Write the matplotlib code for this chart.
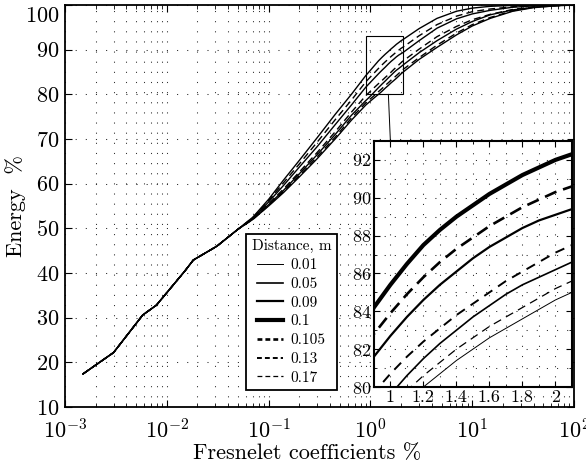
import matplotlib
matplotlib.use("Agg")
import matplotlib.pyplot as plt
import matplotlib.transforms as mtransforms
from matplotlib.lines import Line2D
from matplotlib.patches import Rectangle, ConnectionPatch
from matplotlib.ticker import LogLocator, MultipleLocator, NullFormatter

plt.rcParams['font.family'] = 'serif'
plt.rcParams['font.serif'] = ['cmr10']
plt.rcParams['mathtext.fontset'] = 'cm'
plt.rcParams['axes.formatter.use_mathtext'] = True
plt.rcParams['lines.scale_dashes'] = False

# data
distances = ['0.01', '0.05', '0.09', '0.1', '0.105', '0.13', '0.17']

# all curves coincide at the low end
x_low = [0.0015, 0.003, 0.0058, 0.0079, 0.0151, 0.0182, 0.031]
e_low = [17.4, 22.2, 30.6, 32.8, 40.5, 42.9, 46.0]

x_high = [0.05, 0.07, 0.1, 0.14, 0.2, 0.3, 0.45, 0.65,
          0.9, 1.0, 1.1, 1.2, 1.3, 1.4, 1.5, 1.6, 1.7, 1.8, 1.9, 2.0, 2.1,
          3, 4.5, 7, 10, 15, 25, 40, 65, 100]

e_001 = [49.8, 52.0, 55.0, 58.0, 61.5, 65.6, 70.0, 74.2,
         77.6, 78.5, 79.3, 80.0, 80.7, 81.4, 82.0, 82.6, 83.1, 83.6, 84.1, 84.6, 85.0,
         87.8, 90.5, 93.3, 95.3, 97.0, 98.6, 99.4, 99.8, 100]
e_005 = [49.8, 52.1, 55.3, 58.5, 62.2, 66.5, 71.0, 75.3,
         78.6, 79.6, 80.6, 81.5, 82.3, 83.0, 83.7, 84.3, 84.9, 85.4, 85.8, 86.2, 86.6,
         89.3, 92.0, 94.6, 96.3, 97.8, 98.9, 99.5, 99.9, 100]
e_009 = [49.8, 52.3, 55.9, 59.6, 63.7, 68.3, 73.2, 77.6,
         81.6, 82.7, 83.7, 84.6, 85.4, 86.1, 86.8, 87.4, 87.9, 88.4, 88.8, 89.1, 89.4,
         92.0, 94.8, 96.9, 98.0, 98.8, 99.5, 99.8, 99.9, 100]
e_010 = [49.8, 52.5, 56.5, 60.8, 65.2, 70.3, 75.5, 80.0,
         84.2, 85.4, 86.5, 87.5, 88.3, 89.0, 89.6, 90.2, 90.7, 91.2, 91.6, 92.0, 92.3,
         94.7, 97.0, 98.6, 99.3, 99.7, 99.9, 100, 100, 100]
e_0105 = [49.8, 52.4, 56.2, 60.2, 64.4, 69.3, 74.3, 78.7,
          82.8, 83.9, 84.9, 85.8, 86.6, 87.3, 87.9, 88.5, 89.0, 89.5, 89.9, 90.3, 90.6,
          93.1, 95.6, 97.5, 98.5, 99.1, 99.6, 99.9, 100, 100]
e_013 = [49.8, 52.2, 55.5, 58.8, 62.6, 67.0, 71.6, 76.0,
         79.7, 80.7, 81.6, 82.4, 83.1, 83.8, 84.4, 85.0, 85.6, 86.1, 86.6, 87.1, 87.5,
         90.1, 92.9, 95.2, 96.7, 97.9, 99.0, 99.6, 99.9, 100]
e_017 = [49.8, 52.0, 55.1, 58.2, 61.8, 66.0, 70.4, 74.7,
         78.1, 79.0, 79.8, 80.6, 81.3, 82.0, 82.6, 83.2, 83.7, 84.2, 84.7, 85.2, 85.6,
         88.2, 91.0, 93.7, 95.6, 97.2, 98.7, 99.5, 99.8, 100]

energies = [e_001, e_005, e_009, e_010, e_0105, e_013, e_017]

# (linewidth in inset, dash pattern in inset or None)
styles = [
    (0.7, None),
    (1.2, None),
    (1.6, None),
    (3.0, None),
    (1.9, (9, 5)),
    (1.4, (7, 5)),
    (0.9, (6, 4)),
]

fig = plt.figure(figsize=(5.86, 4.66), dpi=100)
ax = fig.add_axes([0.111, 0.1266, 0.8686, 0.8627])

grid_kw = dict(color='0.2', linewidth=0.75, dashes=(0.8, 6.5))

for e, (lw, dash) in zip(energies, styles):
    ln, = ax.plot(x_low + x_high, e_low + e, color='black', linewidth=1.0)
    if dash is not None:
        ln.set_dashes((5, 3))

ax.set_xscale('log')
ax.set_xlim(1e-3, 1e2)
ax.set_ylim(10, 100)
ax.set_yticks(range(10, 101, 10))
ax.xaxis.set_major_locator(LogLocator(base=10, numticks=10))
ax.xaxis.set_minor_locator(LogLocator(base=10, subs=range(2, 10), numticks=20))
ax.xaxis.set_minor_formatter(NullFormatter())
ax.tick_params(which='both', direction='in', top=True, right=True, labelsize=16)
ax.tick_params(which='major', length=5, width=0.8)
ax.tick_params(which='minor', length=3, width=0.6)
ax.tick_params(axis='x', pad=8)
ax.tick_params(axis='y', pad=4)
ax.grid(True, which='major', **grid_kw)
ax.grid(True, which='minor', axis='x', **grid_kw)
for s in ax.spines.values():
    s.set_linewidth(1.3)
ax.set_xlabel('Fresnelet coefficients %', fontsize=16)
ax.xaxis.set_label_coords(0.476, -0.092)
ax.set_ylabel('Energy  %', fontsize=16)
ax.yaxis.set_label_coords(-0.077, 0.5)

# keep the top label inside the figure, as in the reference
fig.canvas.draw()
top_lab = ax.get_yticklabels()[-1]
top_lab.set_transform(top_lab.get_transform() +
                      mtransforms.ScaledTranslation(0, -7 / 72, fig.dpi_scale_trans))

# zoom box on main axes
ax.add_patch(Rectangle((0.9, 80), 1.2, 13, fill=False, edgecolor='black',
                       linewidth=0.8, zorder=5))

# legend
handles = []
for d, (lw, dash) in zip(distances, styles):
    h = Line2D([0], [0], color='black', linewidth=lw)
    if dash is not None:
        h.set_dashes((3.5, 2.2))
    handles.append(h)
leg = ax.legend(handles, distances, title='Distance, m', loc='lower left',
                bbox_to_anchor=(0.356, 0.042), fontsize=11, title_fontsize=11,
                frameon=True, fancybox=False, edgecolor='black', framealpha=1,
                handlelength=1.7, handletextpad=0.5, labelspacing=0.33,
                borderpad=0.35, borderaxespad=0)
leg.get_frame().set_linewidth(1.3)
leg.set_zorder(10)

# inset
axin = fig.add_axes([0.638, 0.1695, 0.338, 0.528])
for e, (lw, dash) in zip(energies, styles):
    ln, = axin.plot(x_high, e, color='black', linewidth=lw)
    if dash is not None:
        ln.set_dashes(dash)
axin.set_xlim(0.9, 2.1)
axin.set_ylim(80, 93)
axin.set_xticks([1, 1.2, 1.4, 1.6, 1.8, 2])
axin.set_xticklabels(['1', '1.2', '1.4', '1.6', '1.8', '2'])
axin.set_yticks(range(80, 93, 2))
axin.xaxis.set_minor_locator(MultipleLocator(0.1))
axin.yaxis.set_minor_locator(MultipleLocator(1))
axin.tick_params(which='both', direction='in', top=True, right=True, labelsize=13)
axin.tick_params(which='major', length=4, width=0.8, pad=2)
axin.tick_params(which='minor', length=2, width=0.6)
axin.grid(True, which='both', **grid_kw)
for s in axin.spines.values():
    s.set_linewidth(1.5)

con = ConnectionPatch(xyA=(1.5, 80), coordsA=ax.transData,
                      xyB=(1.0, 93), coordsB=axin.transData,
                      color='black', linewidth=0.7)
fig.add_artist(con)

fig.savefig('out.png', dpi=100)
